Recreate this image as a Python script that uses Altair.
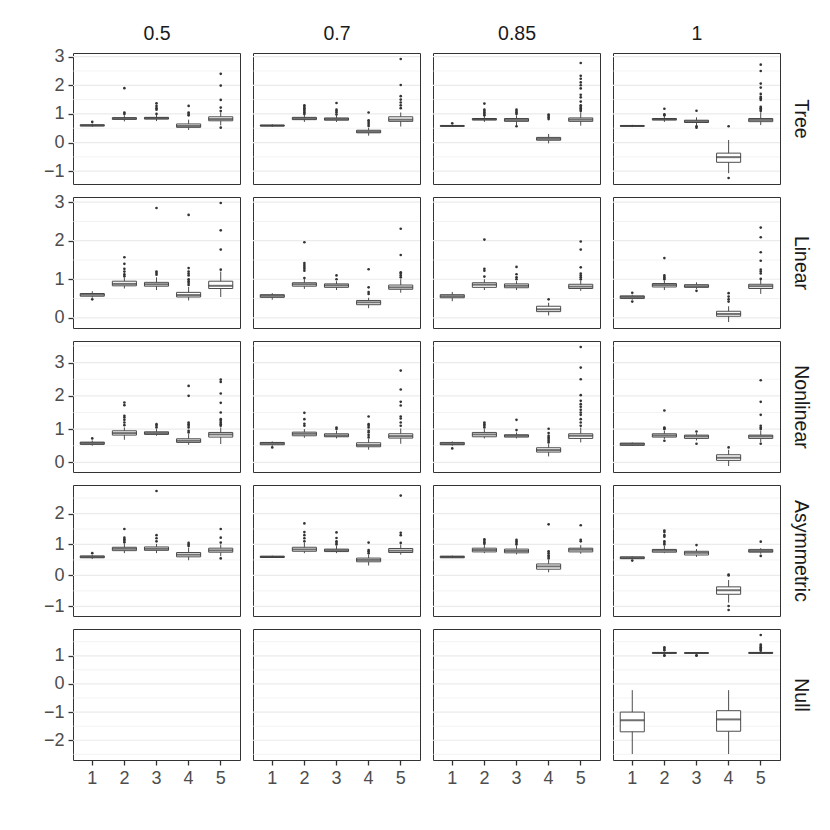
import math
import altair as alt
import pandas as pd

ROWS = ["Tree", "Linear", "Nonlinear", "Asymmetric", "Null"]
COLS = ["0.5", "0.7", "0.85", "1"]
CATS = [1, 2, 3, 4, 5]

# box summaries per category: (lower whisker, q1, median, q3, upper whisker)
TREE_BOX = {
    "0.5": [(0.55, 0.58, 0.60, 0.62, 0.66), (0.74, 0.81, 0.84, 0.87, 0.95), (0.75, 0.82, 0.85, 0.88, 0.96),
            (0.44, 0.53, 0.58, 0.65, 0.80), (0.60, 0.76, 0.82, 0.90, 1.05)],
    "0.7": [(0.55, 0.58, 0.59, 0.61, 0.64), (0.72, 0.80, 0.84, 0.88, 0.98), (0.72, 0.78, 0.82, 0.86, 0.95),
            (0.24, 0.34, 0.38, 0.43, 0.52), (0.56, 0.74, 0.80, 0.90, 1.05)],
    "0.85": [(0.55, 0.57, 0.58, 0.59, 0.62), (0.72, 0.79, 0.81, 0.84, 0.92), (0.60, 0.74, 0.79, 0.84, 0.95),
             (-0.03, 0.08, 0.13, 0.18, 0.30), (0.59, 0.74, 0.80, 0.86, 1.05)],
    "1": [(0.54, 0.57, 0.58, 0.59, 0.62), (0.72, 0.79, 0.81, 0.84, 0.92), (0.60, 0.70, 0.74, 0.78, 0.88),
          (-1.07, -0.69, -0.51, -0.37, 0.09), (0.61, 0.73, 0.79, 0.84, 1.05)],
}
TREE_OUT = {
    "0.5": [[0.72], [1.0, 1.05, 1.9], [1.0, 1.15, 1.2, 1.28, 1.37], [0.95, 1.0, 1.05, 1.28],
            [0.52, 1.1, 1.22, 1.49, 1.99, 2.4]],
    "0.7": [[], [1.0, 1.05, 1.1, 1.15, 1.2, 1.25, 1.3], [0.98, 1.05, 1.1, 1.15, 1.38],
            [0.58, 0.65, 0.72, 0.78, 1.05], [1.2, 1.3, 1.4, 1.5, 1.62, 2.01, 2.92]],
    "0.85": [[0.67], [0.95, 1.0, 1.05, 1.1, 1.15, 1.36], [0.57, 1.0, 1.05, 1.1, 1.15], [0.82, 0.88, 0.94, 0.98],
             [1.1, 1.15, 1.2, 1.25, 1.3, 1.43, 1.58, 1.67, 1.89, 2.0, 2.1, 2.23, 2.33, 2.78]],
    "1": [[], [0.95, 0.99, 1.18], [0.52, 0.57, 1.11], [0.57, -1.24],
          [1.1, 1.15, 1.2, 1.25, 1.49, 1.55, 1.6, 1.7, 1.92, 2.06, 2.5, 2.72]],
}

LINEAR_BOX = {
    "0.5": [(0.52, 0.56, 0.60, 0.63, 0.69), (0.76, 0.83, 0.88, 0.95, 1.05), (0.72, 0.82, 0.87, 0.92, 1.05),
            (0.45, 0.54, 0.59, 0.66, 0.80), (0.54, 0.76, 0.83, 0.95, 1.20)],
    "0.7": [(0.47, 0.53, 0.57, 0.60, 0.64), (0.75, 0.82, 0.87, 0.91, 1.00), (0.72, 0.79, 0.84, 0.88, 0.95),
            (0.25, 0.34, 0.40, 0.45, 0.52), (0.65, 0.74, 0.79, 0.85, 1.00)],
    "0.85": [(0.43, 0.52, 0.56, 0.60, 0.67), (0.72, 0.79, 0.86, 0.91, 1.00), (0.72, 0.78, 0.83, 0.88, 0.95),
             (0.06, 0.16, 0.22, 0.30, 0.39), (0.70, 0.76, 0.81, 0.87, 0.97)],
    "1": [(0.47, 0.50, 0.54, 0.57, 0.60), (0.72, 0.80, 0.85, 0.89, 0.97), (0.75, 0.79, 0.82, 0.86, 0.92),
          (-0.11, 0.04, 0.10, 0.17, 0.30), (0.62, 0.76, 0.82, 0.87, 1.00)],
}
LINEAR_OUT = {
    "0.5": [[0.48], [1.08, 1.13, 1.2, 1.27, 1.4, 1.57], [1.12, 1.16, 1.2, 2.85],
            [0.85, 0.9, 0.95, 1.0, 1.1, 1.15, 1.2, 1.29, 2.67], [1.25, 1.77, 2.27, 2.98]],
    "0.7": [[], [1.03, 1.22, 1.27, 1.32, 1.37, 1.42, 1.96], [1.0, 1.1], [0.62, 0.67, 0.79, 1.26],
            [1.05, 1.1, 1.15, 1.18, 1.63, 2.31]],
    "0.85": [[], [1.07, 1.22, 1.27, 2.03], [1.0, 1.05, 1.13, 1.32], [0.48],
             [1.0, 1.05, 1.1, 1.15, 1.31, 1.77, 1.98]],
    "1": [[0.42, 0.65], [1.0, 1.03, 1.06, 1.1, 1.55], [0.70], [0.42, 0.48, 0.55, 0.64],
          [1.01, 1.15, 1.2, 1.25, 1.48, 1.7, 2.09, 2.34]],
}

NONLINEAR_BOX = {
    "0.5": [(0.50, 0.54, 0.58, 0.61, 0.66), (0.68, 0.82, 0.88, 0.95, 1.05), (0.80, 0.84, 0.88, 0.92, 1.00),
            (0.53, 0.60, 0.65, 0.71, 0.85), (0.55, 0.76, 0.84, 0.90, 1.05)],
    "0.7": [(0.50, 0.53, 0.57, 0.60, 0.63), (0.74, 0.80, 0.86, 0.91, 1.00), (0.72, 0.77, 0.81, 0.86, 0.95),
            (0.38, 0.47, 0.52, 0.59, 0.70), (0.56, 0.73, 0.79, 0.86, 1.02)],
    "0.85": [(0.50, 0.53, 0.56, 0.60, 0.63), (0.72, 0.77, 0.84, 0.90, 1.00), (0.72, 0.76, 0.80, 0.83, 0.90),
             (0.18, 0.31, 0.37, 0.44, 0.55), (0.60, 0.72, 0.80, 0.86, 1.05)],
    "1": [(0.50, 0.51, 0.55, 0.58, 0.60), (0.70, 0.76, 0.81, 0.86, 0.95), (0.66, 0.72, 0.78, 0.82, 0.88),
          (-0.11, 0.06, 0.14, 0.23, 0.38), (0.60, 0.72, 0.78, 0.82, 0.95)],
}
NONLINEAR_OUT = {
    "0.5": [[0.72], [1.12, 1.2, 1.28, 1.35, 1.4, 1.72, 1.8], [1.05, 1.1, 1.15],
            [0.9, 0.95, 1.05, 1.1, 1.15, 1.2, 2.0, 2.3], [1.1, 1.15, 1.2, 1.25, 1.3, 1.5, 1.79, 2.07, 2.42, 2.49]],
    "0.7": [[0.45], [1.1, 1.16, 1.3, 1.49], [1.0, 1.05], [0.75, 0.82, 0.9, 0.95, 1.05, 1.1, 1.15, 1.38],
            [1.1, 1.2, 1.32, 1.38, 1.71, 1.82, 2.19, 2.76]],
    "0.85": [[0.42], [1.05, 1.1, 1.15, 1.2], [0.97, 1.28], [0.6, 0.65, 0.7, 0.75, 0.8, 0.88, 1.01],
             [1.1, 1.2, 1.3, 1.43, 1.5, 1.58, 1.67, 1.75, 1.85, 2.02, 2.5, 2.85, 3.47]],
    "1": [[], [0.65, 1.0, 1.02, 1.05, 1.56], [0.56, 0.93], [0.45], [0.56, 1.0, 1.05, 1.1, 1.43, 1.82, 2.47]],
}

ASYM_BOX = {
    "0.5": [(0.53, 0.57, 0.60, 0.63, 0.66), (0.72, 0.80, 0.86, 0.91, 1.03), (0.72, 0.81, 0.86, 0.92, 1.02),
            (0.49, 0.60, 0.67, 0.74, 0.90), (0.62, 0.75, 0.81, 0.88, 1.00)],
    "0.7": [(0.57, 0.58, 0.60, 0.62, 0.64), (0.72, 0.78, 0.84, 0.91, 1.05), (0.72, 0.77, 0.81, 0.85, 0.95),
            (0.32, 0.44, 0.50, 0.56, 0.68), (0.67, 0.74, 0.80, 0.87, 1.00)],
    "0.85": [(0.56, 0.57, 0.60, 0.62, 0.64), (0.72, 0.76, 0.82, 0.88, 0.98), (0.68, 0.73, 0.79, 0.85, 0.95),
             (0.10, 0.20, 0.29, 0.37, 0.50), (0.70, 0.76, 0.83, 0.88, 0.98)],
    "1": [(0.52, 0.54, 0.57, 0.60, 0.62), (0.72, 0.75, 0.80, 0.84, 0.95), (0.60, 0.66, 0.73, 0.78, 0.85),
          (-0.88, -0.61, -0.48, -0.37, -0.15), (0.70, 0.75, 0.79, 0.84, 0.88)],
}
ASYM_OUT = {
    "0.5": [[0.72], [1.07, 1.12, 1.17, 1.22, 1.5], [1.1, 1.2, 1.3, 2.73], [0.95, 1.0, 1.05],
            [0.55, 1.06, 1.22, 1.5]],
    "0.7": [[], [1.1, 1.2, 1.3, 1.4, 1.68], [1.0, 1.05, 1.1, 1.21, 1.39], [0.72, 0.78, 0.82, 1.06],
            [1.05, 1.3, 1.38, 2.58]],
    "0.85": [[], [1.02, 1.07, 1.12, 1.17], [1.0, 1.05, 1.1, 1.15], [0.55, 0.6, 0.65, 0.72, 0.78, 1.65],
             [1.1, 1.15, 1.62]],
    "1": [[0.48], [1.0, 1.05, 1.1, 1.25, 1.3, 1.4, 1.45], [0.98], [0.0, 0.03, -0.99, -1.12], [0.63, 1.09]],
}

NULL_BOX = {
    "1": [(-2.49, -1.70, -1.29, -1.00, -0.22), (1.08, 1.09, 1.10, 1.12, 1.15), (1.08, 1.09, 1.10, 1.11, 1.13),
          (-2.49, -1.68, -1.26, -0.95, -0.22), (1.08, 1.09, 1.10, 1.12, 1.15)],
}
NULL_OUT = {
    "1": [[], [1.0, 1.02, 1.2, 1.25, 1.3], [1.0, 1.02], [], [1.18, 1.22, 1.26, 1.3, 1.35, 1.4, 1.74]],
}

ROW_DATA = {
    "Tree": (TREE_BOX, TREE_OUT),
    "Linear": (LINEAR_BOX, LINEAR_OUT),
    "Nonlinear": (NONLINEAR_BOX, NONLINEAR_OUT),
    "Asymmetric": (ASYM_BOX, ASYM_OUT),
    "Null": (NULL_BOX, NULL_OUT),
}

# ---- styling ----
FONT = "Liberation Sans"
PW, PH = 167, 131
BAND_W = PW / 5.2 * 0.75
LINE = "#4D4D4D"
DARK = "#333333"
GRID = "#EBEBEB"
LABEL = "#4D4D4D"
STRIP = "#1A1A1A"
FS = 18
FS_STRIP = 19.5

STATS = ["lo", "q1", "med", "q3", "hi"]

# long tables built from the arrays above
box_df = pd.DataFrame(
    [dict(row=r, col=c, cat=k, **dict(zip(STATS, b)))
     for r in ROWS for c, bl in ROW_DATA[r][0].items() for k, b in zip(CATS, bl)]
)
out_df = pd.DataFrame(
    [dict(row=r, col=c, cat=k, v=v)
     for r in ROWS for c, ol in ROW_DATA[r][1].items() for k, o in zip(CATS, ol) for v in o]
)


def row_domain(row):
    vals = list(box_df.loc[box_df.row == row, STATS].values.ravel()) + list(out_df.loc[out_df.row == row, "v"])
    lo, hi = min(vals), max(vals)
    pad = (hi - lo) * 0.05
    return [lo - pad, hi + pad]


def panel(ri, ci):
    row, col = ROWS[ri], COLS[ci]
    sel = (alt.datum.row == row) & (alt.datum.col == col)

    dom = row_domain(row)
    halves = [x / 2 for x in range(math.ceil(dom[0] * 2), math.floor(dom[1] * 2) + 1)]
    majors = [v for v in halves if v == int(v)]
    minors = [v for v in halves if v != int(v)]
    yscale = alt.Scale(domain=dom, nice=False, zero=False)

    ykw = dict(values=majors, grid=False, domain=False, title=None, labelOverlap=False)
    if ci == 0:
        ykw.update(
            labels=True, ticks=True, tickSize=5, tickWidth=1.3, tickColor=DARK,
            format="d", labelColor=LABEL, labelFontSize=FS, labelFont=FONT, labelPadding=4,
        )
    else:
        ykw.update(labels=False, ticks=False)
    if ci == len(COLS) - 1:
        ykw.update(
            orient="right", title=row, titleAngle=90, titleFontSize=FS_STRIP, titleFont=FONT,
            titleFontWeight="normal", titleColor=STRIP, titlePadding=10,
        )
    yaxis = alt.Axis(**ykw)

    if ri == len(ROWS) - 1:
        xaxis = alt.Axis(
            labelAngle=0, ticks=True, tickSize=5, tickWidth=1.3, tickColor=DARK, grid=False,
            domain=False, title=None, labelColor=LABEL, labelFontSize=FS, labelFont=FONT, labelPadding=4,
        )
    elif ri == 0:
        xaxis = alt.Axis(
            orient="top", labels=False, ticks=False, grid=False, domain=False, title=col,
            titleFontSize=FS_STRIP, titleFont=FONT, titleFontWeight="normal", titleColor=STRIP,
            titlePadding=10,
        )
    else:
        xaxis = None
    xscale = alt.Scale(type="band", domain=CATS, paddingInner=0.25, paddingOuter=0.225)
    X = alt.X("cat:O", scale=xscale, axis=xaxis)
    Y = lambda f: alt.Y(f, scale=yscale, axis=yaxis)

    # panel grid lines (major at integers, minor at halves) from the tick arrays
    gmin = alt.Chart(pd.DataFrame({"g": minors})).mark_rule(color=GRID, strokeWidth=0.6).encode(y=Y("g:Q"))
    gmaj = alt.Chart(pd.DataFrame({"g": majors})).mark_rule(color=GRID, strokeWidth=1.2).encode(y=Y("g:Q"))

    base = alt.Chart(box_df).transform_filter(sel)
    whisk = base.mark_rule(color=LINE, strokeWidth=1).encode(x=X, y=Y("lo:Q"), y2="hi:Q")
    box = base.mark_bar(fill="white", stroke=LINE, strokeWidth=1).encode(x=X, y=Y("q1:Q"), y2="q3:Q")
    med = base.mark_tick(color=DARK, thickness=2, size=BAND_W).encode(x=X, y=Y("med:Q"))
    pts = alt.Chart(out_df).transform_filter(sel).mark_circle(color=DARK, size=7, opacity=1).encode(
        x=X, y=Y("v:Q")
    )
    return alt.layer(gmin, gmaj, whisk, box, med, pts).properties(width=PW, height=PH)


panels = [panel(ri, ci) for ri in range(len(ROWS)) for ci in range(len(COLS))]

chart = (
    alt.concat(*panels, columns=4, spacing=13, bounds="flush")
    .properties(padding={"left": 34, "top": 14, "right": 5, "bottom": 5})
    .configure(font=FONT)
    .configure_view(stroke=DARK, strokeWidth=1)
)

chart.save("out.html", embed_options={"renderer": "svg", "actions": False})
